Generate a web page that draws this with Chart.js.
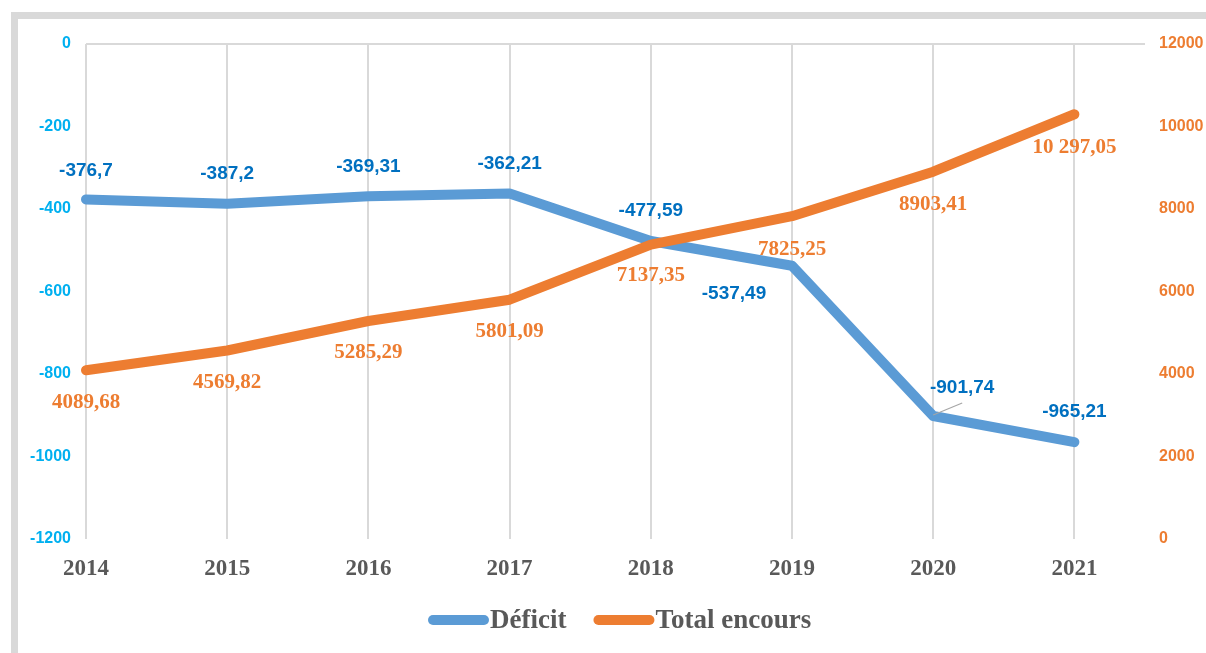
<!DOCTYPE html>
<html><head><meta charset="utf-8">
<script src="https://cdn.jsdelivr.net/npm/chart.js@4.4.0/dist/chart.umd.min.js"></script>
<style>html,body{margin:0;padding:0;background:#fff;}#wrap{width:1206px;height:653px;position:relative;}</style>
</head><body><div id="wrap"><canvas id="c" width="1206" height="653"></canvas></div>
<script>
// ---- data ----
const years = [2014, 2015, 2016, 2017, 2018, 2019, 2020, 2021];
const deficit = [-376.7, -387.2, -369.31, -362.21, -477.59, -537.49, -901.74, -965.21];
const encours = [4089.68, 4569.82, 5285.29, 5801.09, 7137.35, 7825.25, 8903.41, 10297.05];
const seriesNames = ['Déficit', 'Total encours'];
const leftRange = [-1200, 0, 200];
const rightRange = [0, 12000, 2000];

// ---- styles ----
const BLUE = '#5b9bd5', BLUE_TXT = '#0070c0', ORANGE = '#ed7d31', LEFT_TICK = '#00b0f0', GRAY_TXT = '#595959', GRID = '#d9d9d9';
const SANS = '"Liberation Sans", Arial, sans-serif';
const SERIF = '"Liberation Serif", "Times New Roman", serif';
// label offsets (relative to point) [dx, dy]
const defOffsets = [[0,-29],[0,-30],[0,-30],[0,-30],[0,-30],[-58,28],[29,-28],[0,-30]];
const encOffsets = [[0,32],[0,32],[0,32],[0,32],[0,31],[0,33],[0,33],[0,33]];

function fmt(v) {
  let s = String(v).replace('.', ',');
  if (Math.abs(v) >= 10000) {
    const [i, d] = s.split(',');
    s = i.slice(0, i.length - 3) + ' ' + i.slice(-3) + (d ? ',' + d : '');
  }
  return s;
}

const framePlugin = {
  id: 'frame',
  beforeDraw(chart) {
    const ctx = chart.ctx;
    ctx.save();
    ctx.fillStyle = '#fff';
    ctx.fillRect(0, 0, chart.width, chart.height);
    ctx.fillStyle = GRID;
    ctx.fillRect(11, 12, chart.width - 11, 7);
    ctx.fillRect(11, 12, 7, chart.height - 12);
    ctx.restore();
  }
};

const labelPlugin = {
  id: 'valueLabels',
  afterDatasetsDraw(chart) {
    const ctx = chart.ctx;
    ctx.save();
    ctx.textAlign = 'center';
    ctx.textBaseline = 'middle';
    const m0 = chart.getDatasetMeta(0);
    ctx.font = 'bold 19px ' + SANS;
    ctx.fillStyle = BLUE_TXT;
    m0.data.forEach((pt, i) => {
      const [dx, dy] = defOffsets[i];
      if (i === 6) {
        ctx.save();
        ctx.strokeStyle = '#a6a6a6';
        ctx.lineWidth = 1.2;
        ctx.beginPath();
        ctx.moveTo(pt.x, pt.y - 1);
        ctx.lineTo(pt.x + 29, pt.y - 13);
        ctx.stroke();
        ctx.restore();
      }
      ctx.fillText(fmt(deficit[i]), pt.x + dx, pt.y + dy);
    });
    const m1 = chart.getDatasetMeta(1);
    ctx.font = 'bold 21px ' + SERIF;
    ctx.fillStyle = ORANGE;
    m1.data.forEach((pt, i) => {
      const [dx, dy] = encOffsets[i];
      ctx.fillText(fmt(encours[i]), pt.x + dx, pt.y + dy);
    });
    ctx.restore();
  }
};

const legendPlugin = {
  id: 'customLegend',
  afterDraw(chart) {
    const ctx = chart.ctx;
    ctx.save();
    const y = 620;
    ctx.font = 'bold 27px ' + SERIF;
    ctx.textBaseline = 'middle';
    ctx.textAlign = 'left';
    ctx.lineCap = 'round';
    ctx.lineWidth = 10;
    const items = [[seriesNames[0], BLUE], [seriesNames[1], ORANGE]];
    let x = 428;
    items.forEach(([name, col]) => {
      ctx.strokeStyle = col;
      ctx.beginPath();
      ctx.moveTo(x + 5, y);
      ctx.lineTo(x + 56, y);
      ctx.stroke();
      ctx.fillStyle = GRAY_TXT;
      ctx.fillText(name, x + 62, y + 1);
      x += 62 + ctx.measureText(name).width + 27;
    });
    ctx.restore();
  }
};

new Chart(document.getElementById('c'), {
  type: 'line',
  data: {
    datasets: [
      {
        label: seriesNames[0],
        data: years.map((y, i) => ({ x: y, y: deficit[i] })),
        yAxisID: 'yL',
        borderColor: BLUE,
        borderWidth: 10,
        borderCapStyle: 'round',
        borderJoinStyle: 'round',
        pointRadius: 0,
        tension: 0,
        clip: false,
        order: 1
      },
      {
        label: seriesNames[1],
        data: years.map((y, i) => ({ x: y, y: encours[i] })),
        yAxisID: 'yR',
        borderColor: ORANGE,
        borderWidth: 10,
        borderCapStyle: 'round',
        borderJoinStyle: 'round',
        pointRadius: 0,
        tension: 0,
        clip: false,
        order: 0
      }
    ]
  },
  options: {
    responsive: false,
    animation: false,
    devicePixelRatio: 1,
    layout: { padding: { top: 44, left: 0, right: 0, bottom: 0 } },
    plugins: { legend: { display: false }, tooltip: { enabled: false } },
    scales: {
      x: {
        type: 'linear',
        min: years[0],
        max: years[years.length - 1] + 0.5,
        afterFit: s => { s.height = 114; },
        border: { display: false },
        grid: {
          drawTicks: false,
          lineWidth: 2,
          color: c => Number.isInteger(c.tick.value) ? GRID : 'rgba(0,0,0,0)'
        },
        ticks: {
          stepSize: 1,
          includeBounds: false,
          autoSkip: false,
          maxRotation: 0,
          padding: 16,
          color: GRAY_TXT,
          font: { family: SERIF, size: 23, weight: 'bold' },
          callback: v => Number.isInteger(v) ? String(v) : ''
        }
      },
      yL: {
        position: 'left',
        min: leftRange[0],
        max: leftRange[1],
        afterFit: s => { s.width = 86; },
        border: { display: false },
        grid: {
          drawTicks: false,
          lineWidth: 2,
          color: c => c.tick.value === 0 ? GRID : 'rgba(0,0,0,0)'
        },
        ticks: {
          stepSize: leftRange[2],
          padding: 15,
          color: LEFT_TICK,
          font: { family: SANS, size: 16, weight: 'bold' },
          callback: v => String(v)
        }
      },
      yR: {
        position: 'right',
        min: rightRange[0],
        max: rightRange[1],
        afterFit: s => { s.width = 61; },
        border: { display: false },
        grid: { display: false, drawTicks: false },
        ticks: {
          stepSize: rightRange[2],
          padding: 14,
          color: ORANGE,
          font: { family: SANS, size: 16, weight: 'bold' },
          callback: v => String(v)
        }
      }
    }
  },
  plugins: [framePlugin, labelPlugin, legendPlugin]
});
</script>
</body></html>
